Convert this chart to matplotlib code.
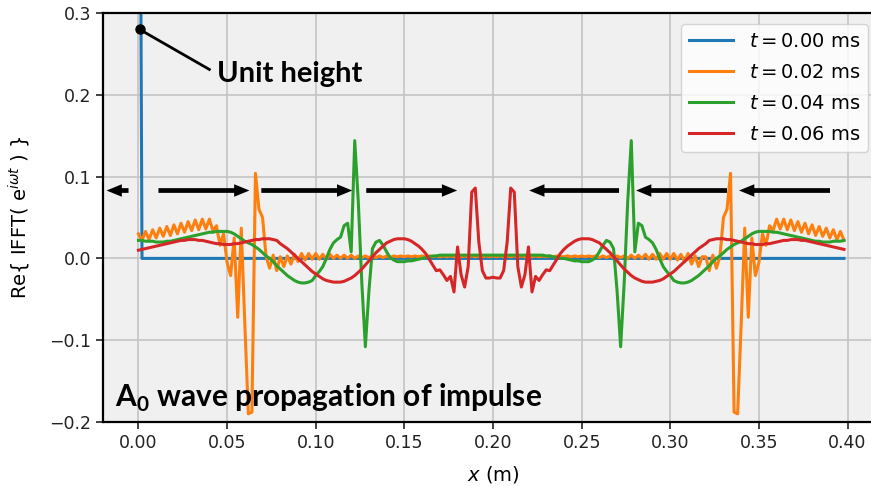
import numpy as np
import matplotlib
matplotlib.use("Agg")
import matplotlib.pyplot as plt

# sampling grid along the plate (m)
x = np.arange(200) * 0.002

# t = 0.00 ms : unit impulse at the origin
impulse = np.zeros(200)
impulse[0] = 1.0

# t = 0.02 ms
wave_002 = [
    0.030, 0.022, 0.033, 0.023, 0.035, 0.025, 0.037, 0.027, 0.039, 0.028,
    0.041, 0.030, 0.043, 0.032, 0.045, 0.034, 0.047, 0.035, 0.048, 0.036,
    0.048, 0.034, 0.040, 0.016, 0.030, -0.005, -0.021, 0.025, -0.072, 0.037,
    -0.080, -0.190, -0.188, 0.104, 0.060, 0.050, 0.002, -0.012, 0.004, -0.015,
    0.002, -0.010, 0.003, -0.007, 0.005, -0.004, 0.006, -0.002, 0.006, -0.001,
    0.006, -0.001, 0.005, -0.001, 0.005, 0.000, 0.004, 0.000, 0.004, 0.000,
    0.004, 0.000, 0.003, 0.001, 0.003, 0.001, 0.003, 0.001, 0.003, 0.001,
    0.003, 0.001, 0.003, 0.002, 0.003, 0.002, 0.003, 0.002, 0.003, 0.002,
    0.003, 0.002, 0.003, 0.002, 0.003, 0.002, 0.003, 0.002, 0.003, 0.002,
    0.003, 0.002, 0.003, 0.002, 0.003, 0.002, 0.003, 0.002, 0.003, 0.002,
    0.003, 0.002, 0.003, 0.002, 0.003, 0.002, 0.003, 0.002, 0.003, 0.002,
    0.003, 0.002, 0.003, 0.002, 0.003, 0.002, 0.003, 0.002, 0.003, 0.002,
    0.002, 0.003, 0.002, 0.003, 0.002, 0.003, 0.002, 0.003, 0.002, 0.003,
    0.001, 0.003, 0.001, 0.003, 0.001, 0.003, 0.001, 0.003, 0.000, 0.004,
    0.000, 0.004, 0.000, 0.005, -0.001, 0.005, -0.001, 0.006, -0.001, 0.006,
    -0.001, 0.006, -0.002, 0.005, -0.004, 0.006, -0.007, 0.003, -0.010, 0.002,
    0.002, -0.015, 0.004, -0.012, 0.002, 0.050, 0.060, 0.104, -0.188, -0.190,
    -0.080, 0.037, -0.072, 0.025, -0.021, -0.005, 0.030, 0.016, 0.040, 0.034,
    0.048, 0.036, 0.048, 0.035, 0.047, 0.034, 0.045, 0.032, 0.043, 0.030,
    0.041, 0.028, 0.039, 0.027, 0.037, 0.025, 0.035, 0.023, 0.033, 0.022,
]

# t = 0.04 ms
wave_004 = [
    0.022, 0.022, 0.021, 0.021, 0.021, 0.020, 0.020, 0.020, 0.021, 0.021,
    0.022, 0.023, 0.024, 0.025, 0.026, 0.027, 0.028, 0.029, 0.030, 0.031,
    0.032, 0.032, 0.033, 0.033, 0.033, 0.033, 0.032, 0.030, 0.027, 0.024,
    0.021, 0.019, 0.017, 0.014, 0.011, 0.007, 0.003, 0.000, -0.004, -0.009,
    -0.013, -0.017, -0.021, -0.024, -0.027, -0.029, -0.030, -0.030, -0.029, -0.027,
    -0.021, -0.016, -0.010, 0.000, 0.011, 0.019, 0.023, 0.026, 0.040, 0.043,
    0.008, 0.144, 0.070, -0.030, -0.108, -0.040, 0.012, 0.020, 0.022, 0.016,
    0.008, 0.001, -0.002, -0.004, -0.004, -0.004, -0.003, -0.003, -0.002, -0.001,
    0.000, 0.001, 0.002, 0.003, 0.003, 0.004, 0.004, 0.004, 0.004, 0.004,
    0.004, 0.004, 0.004, 0.004, 0.004, 0.004, 0.004, 0.004, 0.004, 0.004,
    0.004, 0.004, 0.004, 0.004, 0.004, 0.004, 0.004, 0.004, 0.004, 0.004,
    0.004, 0.004, 0.004, 0.004, 0.004, 0.003, 0.003, 0.002, 0.001, 0.000,
    0.000, -0.001, -0.002, -0.003, -0.003, -0.004, -0.004, -0.004, -0.002, 0.001,
    0.008, 0.016, 0.022, 0.020, 0.012, -0.040, -0.108, -0.030, 0.070, 0.144,
    0.008, 0.043, 0.040, 0.026, 0.023, 0.019, 0.011, 0.000, -0.010, -0.016,
    -0.021, -0.027, -0.029, -0.030, -0.030, -0.029, -0.027, -0.024, -0.021, -0.017,
    -0.013, -0.009, -0.004, 0.000, 0.003, 0.007, 0.011, 0.014, 0.017, 0.019,
    0.021, 0.024, 0.027, 0.030, 0.032, 0.033, 0.033, 0.033, 0.033, 0.032,
    0.032, 0.031, 0.030, 0.029, 0.028, 0.027, 0.026, 0.025, 0.024, 0.023,
    0.022, 0.021, 0.021, 0.020, 0.020, 0.020, 0.021, 0.021, 0.021, 0.022,
]

# t = 0.06 ms
wave_006 = [
    0.010, 0.011, 0.012, 0.013, 0.014, 0.015, 0.016, 0.017, 0.018, 0.019,
    0.020, 0.021, 0.022, 0.022, 0.023, 0.023, 0.023, 0.022, 0.022, 0.021,
    0.020, 0.019, 0.018, 0.018, 0.017, 0.017, 0.017, 0.018, 0.018, 0.019,
    0.020, 0.021, 0.022, 0.023, 0.023, 0.024, 0.024, 0.024, 0.023, 0.022,
    0.018, 0.015, 0.012, 0.008, 0.004, 0.000, -0.004, -0.008, -0.012, -0.016,
    -0.019, -0.022, -0.025, -0.027, -0.028, -0.029, -0.029, -0.029, -0.028, -0.026,
    -0.024, -0.021, -0.017, -0.013, -0.008, -0.003, 0.002, 0.007, 0.011, 0.015,
    0.019, 0.021, 0.023, 0.024, 0.024, 0.024, 0.023, 0.021, 0.018, 0.015,
    0.011, 0.006, -0.001, -0.008, -0.015, -0.014, -0.020, -0.027, -0.022, -0.041,
    0.014, -0.020, -0.035, -0.010, 0.081, 0.086, 0.020, -0.015, -0.024, -0.024,
    -0.023, -0.024, -0.024, -0.015, 0.020, 0.086, 0.081, -0.010, -0.035, -0.020,
    0.014, -0.041, -0.022, -0.027, -0.020, -0.014, -0.015, -0.008, -0.001, 0.006,
    0.011, 0.015, 0.018, 0.021, 0.023, 0.024, 0.024, 0.024, 0.023, 0.021,
    0.019, 0.015, 0.011, 0.007, 0.002, -0.003, -0.008, -0.013, -0.017, -0.021,
    -0.024, -0.026, -0.028, -0.029, -0.029, -0.029, -0.028, -0.027, -0.025, -0.022,
    -0.019, -0.016, -0.012, -0.008, -0.004, 0.000, 0.004, 0.008, 0.012, 0.015,
    0.018, 0.022, 0.023, 0.024, 0.024, 0.024, 0.023, 0.023, 0.022, 0.021,
    0.020, 0.019, 0.018, 0.018, 0.017, 0.017, 0.017, 0.018, 0.018, 0.019,
    0.020, 0.021, 0.022, 0.022, 0.023, 0.023, 0.023, 0.022, 0.022, 0.021,
    0.020, 0.019, 0.018, 0.017, 0.016, 0.015, 0.014, 0.013, 0.012, 0.011,
]

times = [0.00, 0.02, 0.04, 0.06]
waves = [impulse, wave_002, wave_004, wave_006]
colors = ["#1f77b4", "#ff7f0e", "#2ca02c", "#d62728"]

# direction arrows (tail, tip) at a fixed height
arrow_y = 0.083
arrows = [(-0.0056, -0.018), (0.0113, 0.0626), (0.0693, 0.1206), (0.1285, 0.1798),
          (0.2711, 0.2204), (0.3320, 0.2807), (0.3901, 0.3388)]

label_font = ["Lato", "DejaVu Sans"]

fig = plt.figure(figsize=(8.71, 4.86), dpi=100)
ax = fig.add_axes([103/871, 64/486, 780/871, 409/486])
ax.set_facecolor("#f0f0f0")

for t, w, c in zip(times, waves, colors):
    ax.plot(x, w, color=c, lw=2.2, label="$t = %.2f$ ms" % t)

ax.set_xlim(-0.02, 0.42)
ax.set_ylim(-0.2, 0.3)
ax.set_xticks(np.arange(0, 0.41, 0.05))
ax.set_yticks([-0.2, -0.1, 0.0, 0.1, 0.2, 0.3])
ax.tick_params(labelsize=12.5, length=5, width=1.2, colors="#222222")
ax.grid(True, color="#c4c4c4", lw=1.2)
ax.set_axisbelow(True)
for s in ax.spines.values():
    s.set_linewidth(1.6)
    s.set_color("black")

ax.set_xlabel("$x$ (m)", fontsize=14, labelpad=9)
ax.set_ylabel(r"Re$\{$ IFFT( e$^{i\omega t}$ ) $\}$", fontsize=14, labelpad=12)

for tail, tip in arrows:
    ax.annotate("", xy=(tip, arrow_y), xytext=(tail, arrow_y),
                arrowprops=dict(width=3.4, headwidth=9, headlength=11,
                                color="black", lw=0, shrink=0))

# unit height marker
ax.plot([0.0006, 0.040], [0.280, 0.231], color="black", lw=2)
ax.plot(0.0006, 0.280, "o", color="black", ms=6.5)
ax.text(0.0445, 0.226, "Unit height", family=label_font, weight="bold",
        fontsize=21, va="center", ha="left")

ax.text(-0.013, -0.171, r"A$_\mathregular{0}$ wave propagation of impulse",
        family=label_font, weight="bold", fontsize=21.5, va="center", ha="left")

ax.legend(loc="upper right", bbox_to_anchor=(868/871, 462/486),
          bbox_transform=fig.transFigure, borderaxespad=0, fontsize=14,
          handlelength=2.3, labelspacing=0.62, framealpha=0.8, edgecolor="#cccccc")

fig.savefig("out.png", dpi=100)
